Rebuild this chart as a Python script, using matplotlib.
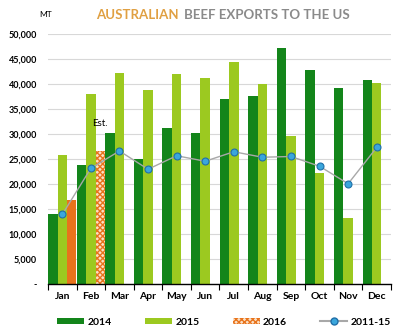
import matplotlib.pyplot as plt
import numpy as np
from matplotlib.lines import Line2D
from matplotlib.patches import Patch

# Australian beef exports to the US, MT
months = ['Jan', 'Feb', 'Mar', 'Apr', 'May', 'Jun', 'Jul', 'Aug', 'Sep', 'Oct', 'Nov', 'Dec']
exp_2014 = [13900, 23700, 30200, 25000, 31200, 30200, 36900, 37600, 47200, 42700, 39100, 40800]
exp_2015 = [25800, 37900, 42100, 38700, 41900, 41100, 44300, 40000, 29500, 22100, 13100, 40100]
exp_2016 = [16800, 26600]
avg_2011_15 = [13900, 23150, 26600, 22950, 25650, 24550, 26450, 25350, 25500, 23550, 20050, 27300]
y_ticks = [0, 5000, 10000, 15000, 20000, 25000, 30000, 35000, 40000, 45000, 50000]

c_2014 = '#13851a'
c_2015 = '#9cc920'
c_2016 = '#e8731c'
c_line = '#a8a8a8'
c_mark = '#3aa6dc'

plt.rcParams['font.family'] = ['Lato', 'DejaVu Sans']

fig = plt.figure(figsize=(4, 3.3), dpi=100)
ax = fig.add_axes([0.12, 0.1394, 0.8575, 0.7576])

x = np.arange(len(months))
w = 0.33

ax.bar(x - w, exp_2014, w, color=c_2014, zorder=2)
ax.bar(x, exp_2015, w, color=c_2015, zorder=2)
ax.bar(x[:1] + w, exp_2016[:1], w, color=c_2016, zorder=2)
# Feb 2016 is an estimate: hatched bar
ax.bar(x[1:2] + w, exp_2016[1:2], w, color='#fbe0c4', edgecolor=c_2016,
       hatch='xxxxxx', linewidth=0, zorder=2)
ax.plot(x, avg_2011_15, color=c_line, linewidth=1, marker='o', markersize=5,
        markerfacecolor=c_mark, markeredgecolor='#1f6fa8', markeredgewidth=0.8, zorder=3)

ax.text(1.33, 31200, 'Est.', ha='center', va='bottom', fontsize=7)

ax.set_xlim(-0.5, 11.5)
ax.set_ylim(0, 50000)
ax.set_yticks(y_ticks)
ax.set_yticklabels(['-'] + [f'{v:,}' for v in y_ticks[1:]], fontsize=6.5, fontweight='bold')
ax.set_xticks(x)
ax.set_xticklabels(months, fontsize=7.5, fontweight='bold')
ax.set_xticks(np.arange(-0.5, 12, 1), minor=True)
ax.tick_params(axis='x', which='major', length=0, pad=6)
ax.tick_params(axis='x', which='minor', length=4, width=0.8, direction='out')
ax.tick_params(axis='y', length=0, pad=8)
ax.grid(axis='y', color='#d8d8d8', linewidth=0.8, zorder=0)
for s in ['top', 'right', 'left']:
    ax.spines[s].set_visible(False)
ax.spines['bottom'].set_linewidth(1.0)

fig.text(0.115, 0.955, 'MT', fontsize=6, ha='center', va='center')
fig.text(0.447, 0.955, 'AUSTRALIAN', fontsize=9.5, fontweight='bold', color='#e0a042',
         ha='right', va='center')
fig.text(0.459, 0.955, 'BEEF EXPORTS TO THE US', fontsize=9.5, fontweight='bold',
         color='#8a8a8a', ha='left', va='center')

handles = [Patch(facecolor=c_2014), Patch(facecolor=c_2015),
           Patch(facecolor='#fbe0c4', edgecolor=c_2016, hatch='xxxxxx', linewidth=0),
           Line2D([0], [0], color=c_line, marker='o', markersize=5, markerfacecolor=c_mark,
                  markeredgecolor='#1f6fa8')]
fig.legend(handles, ['2014', '2015', '2016', '2011-15'], loc='center',
           bbox_to_anchor=(0.56, 0.024), ncol=4, frameon=False, handlelength=2.6,
           handleheight=0.5, columnspacing=3.2, handletextpad=0.3,
           prop={'size': 7.5, 'weight': 'bold'})

fig.savefig('out.png', dpi=100)
